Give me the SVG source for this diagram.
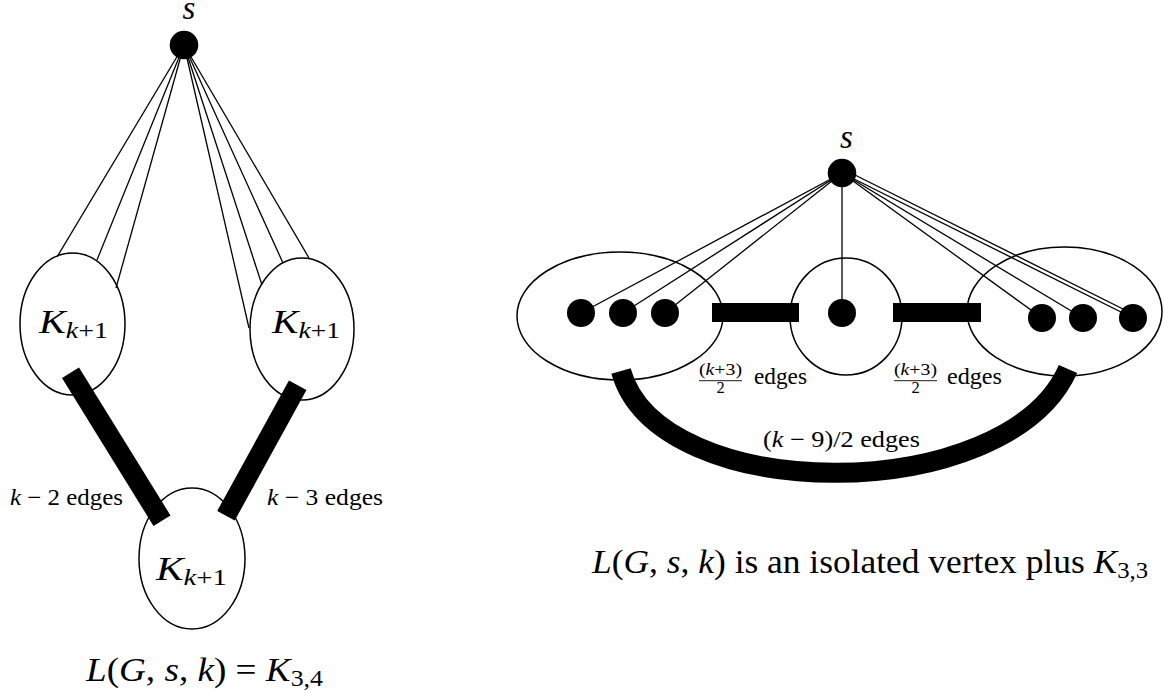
<svg xmlns="http://www.w3.org/2000/svg" width="1164" height="693" viewBox="0 0 1164 693">
<style>
.ell{fill:none;stroke:#000;stroke-width:1.5}
.ln{stroke:#000;stroke-width:1.3;fill:none}
.thick{stroke:#000;stroke-width:20;fill:none;stroke-linecap:butt}
.dot{fill:#000}
.big{font-size:33px}
.sm{font-size:23px}
.fr{font-size:16.5px}
.i{font-style:italic}
</style>
<rect width="1164" height="693" fill="#fff"/>
<!-- Left diagram -->
<g id="left-edges">
<line class="ln" x1="184" y1="45" x2="57" y2="257"/>
<line class="ln" x1="184" y1="45" x2="97" y2="260"/>
<line class="ln" x1="184" y1="45" x2="116" y2="288"/>
<line class="ln" x1="184" y1="45" x2="249" y2="328"/>
<line class="ln" x1="184" y1="45" x2="262" y2="285"/>
<line class="ln" x1="184" y1="45" x2="283" y2="263"/>
<line class="ln" x1="184" y1="45" x2="309" y2="258"/>
<line class="thick" x1="70.5" y1="372.7" x2="162" y2="520.7"/>
<line class="thick" x1="297.7" y1="385.3" x2="226" y2="515.7"/>
</g>
<g id="left-s">
<circle class="dot" cx="184" cy="45" r="14.3"/>
<text class="big i" style="font-family:'Liberation Serif',serif" x="189" y="19" text-anchor="middle">s</text>
</g>
<g id="left-K1">
<ellipse class="ell" cx="72.5" cy="324" rx="52.5" ry="71"/>
<text class="big" style="font-family:'Liberation Serif',serif" x="39" y="333" textLength="69" lengthAdjust="spacingAndGlyphs"><tspan class="i">K</tspan><tspan class="sm i" dy="5">k</tspan><tspan class="sm">+1</tspan></text>
</g>
<g id="left-K2">
<ellipse class="ell" cx="302" cy="329" rx="52" ry="71"/>
<text class="big" style="font-family:'Liberation Serif',serif" x="272" y="333" textLength="68" lengthAdjust="spacingAndGlyphs"><tspan class="i">K</tspan><tspan class="sm i" dy="5">k</tspan><tspan class="sm">+1</tspan></text>
</g>
<g id="left-K3">
<ellipse class="ell" cx="192" cy="558.5" rx="53" ry="70.5"/>
<text class="big" style="font-family:'Liberation Serif',serif" x="156" y="580" textLength="71" lengthAdjust="spacingAndGlyphs"><tspan class="i">K</tspan><tspan class="sm i" dy="5">k</tspan><tspan class="sm">+1</tspan></text>
</g>
<g id="left-labels">
<text class="sm" style="font-family:'Liberation Serif',serif" x="10" y="505" textLength="113" lengthAdjust="spacingAndGlyphs"><tspan class="i">k</tspan> − 2 edges</text>
<text class="sm" style="font-family:'Liberation Serif',serif" x="267" y="505" textLength="116" lengthAdjust="spacingAndGlyphs"><tspan class="i">k</tspan> − 3 edges</text>
<text class="big" style="font-family:'Liberation Serif',serif" x="86" y="681" textLength="237" lengthAdjust="spacingAndGlyphs"><tspan class="i">L</tspan>(<tspan class="i">G</tspan>, <tspan class="i">s</tspan>, <tspan class="i">k</tspan>) = <tspan class="i">K</tspan><tspan class="sm" dy="5">3,4</tspan></text>
</g>
<!-- Right diagram -->
<g id="right-edges">
<line class="ln" x1="842" y1="173" x2="581" y2="313"/>
<line class="ln" x1="842" y1="173" x2="623" y2="313"/>
<line class="ln" x1="842" y1="173" x2="665" y2="313"/>
<line class="ln" x1="842" y1="173" x2="842" y2="313"/>
<line class="ln" x1="842" y1="173" x2="1042" y2="318"/>
<line class="ln" x1="842" y1="173" x2="1083" y2="318"/>
<line class="ln" x1="842" y1="173" x2="1133" y2="318"/>
<line class="ln" x1="843" y1="169" x2="1133" y2="314"/>
<rect class="dot" x="712" y="303" width="87" height="19"/>
<rect class="dot" x="893" y="303" width="88" height="19"/>
<path class="thick" d="M621,371 C659,507 1007,507 1068,369"/>
</g>
<g id="right-s">
<circle class="dot" cx="842" cy="173" r="14.3"/>
<text class="big i" style="font-family:'Liberation Serif',serif" x="846.5" y="148" text-anchor="middle">s</text>
</g>
<g id="right-A">
<ellipse class="ell" cx="620" cy="316" rx="103" ry="64"/>
<circle class="dot" cx="581" cy="313" r="14"/>
<circle class="dot" cx="623" cy="313" r="14"/>
<circle class="dot" cx="665" cy="313" r="14"/>
</g>
<g id="right-B">
<ellipse class="ell" cx="846" cy="316.5" rx="56" ry="58.5"/>
<circle class="dot" cx="842" cy="313" r="14"/>
</g>
<g id="right-C">
<ellipse class="ell" cx="1064.5" cy="311.5" rx="97.5" ry="64.5"/>
<circle class="dot" cx="1042" cy="318" r="14"/>
<circle class="dot" cx="1083" cy="318" r="14"/>
<circle class="dot" cx="1133" cy="318" r="14"/>
</g>
<g id="right-labels">
<text class="fr" style="font-family:'Liberation Serif',serif" x="699" y="375" textLength="43" lengthAdjust="spacingAndGlyphs">(<tspan class="i">k</tspan>+3)</text>
<line x1="699" y1="380.7" x2="742" y2="380.7" stroke="#000" stroke-width="0.9"/>
<text class="fr" style="font-family:'Liberation Serif',serif" x="720.5" y="393" text-anchor="middle">2</text>
<text class="sm" style="font-family:'Liberation Serif',serif" x="754" y="384" textLength="53" lengthAdjust="spacingAndGlyphs">edges</text>
<text class="fr" style="font-family:'Liberation Serif',serif" x="894" y="375" textLength="43" lengthAdjust="spacingAndGlyphs">(<tspan class="i">k</tspan>+3)</text>
<line x1="894" y1="380.7" x2="937" y2="380.7" stroke="#000" stroke-width="0.9"/>
<text class="fr" style="font-family:'Liberation Serif',serif" x="915.5" y="393" text-anchor="middle">2</text>
<text class="sm" style="font-family:'Liberation Serif',serif" x="947" y="384" textLength="55" lengthAdjust="spacingAndGlyphs">edges</text>
<text class="sm" style="font-family:'Liberation Serif',serif" x="763" y="447" textLength="157" lengthAdjust="spacingAndGlyphs">(<tspan class="i">k</tspan> − 9)/2 edges</text>
<text class="big" style="font-family:'Liberation Serif',serif" x="592" y="573" textLength="556" lengthAdjust="spacingAndGlyphs"><tspan class="i">L</tspan>(<tspan class="i">G</tspan>, <tspan class="i">s</tspan>, <tspan class="i">k</tspan>) is an isolated vertex plus <tspan class="i">K</tspan><tspan class="sm" dy="5">3,3</tspan></text>
</g>
</svg>
